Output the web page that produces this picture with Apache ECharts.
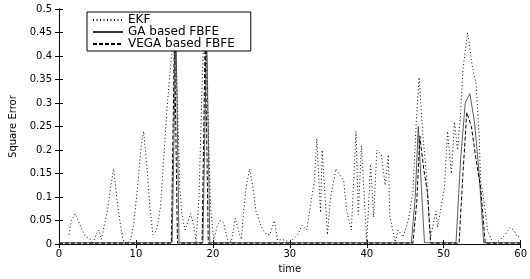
<!DOCTYPE html>
<html><head><meta charset="utf-8">
<script src="https://cdn.jsdelivr.net/npm/echarts@6/dist/echarts.min.js"></script>
<style>html,body{margin:0;padding:0;background:#fff}#c{width:530px;height:279px}</style>
</head><body><div id="c"></div>
<script>
const seriesNames = ['EKF', 'GA based FBFE', 'VEGA based FBFE'];
const xTicks = [0, 10, 20, 30, 40, 50, 60];
const yTicks = [0, 0.05, 0.1, 0.15, 0.2, 0.25, 0.3, 0.35, 0.4, 0.45, 0.5];

const ekfTime = [1.3,1.6,2.1,2.5,3.0,3.5,4.0,4.4,4.8,5.2,5.5,5.9,6.3,6.7,7.1,7.5,7.9,8.3,8.7,9.3,9.7,10.2,10.7,11.0,11.4,11.8,12.2,12.7,13.2,13.6,14.0,14.4,14.8,15.1,15.4,15.7,16.0,16.4,16.8,17.1,17.5,17.8,18.2,18.5,18.8,19.1,19.4,19.7,20.1,20.6,21.0,21.4,21.9,22.4,22.9,23.3,23.7,24.0,24.4,24.8,25.2,25.6,26.1,26.5,27.0,27.4,28.0,28.4,29.0,30.0,31.0,31.6,32.2,33.2,33.5,34.0,34.2,34.9,35.3,36.0,37.0,37.4,38.0,38.6,38.9,39.3,40.0,40.5,40.9,41.3,41.9,42.4,42.8,43.0,43.7,44.1,44.7,45.4,46.0,46.4,46.8,47.3,47.7,48.0,48.3,49.0,49.2,50.1,50.5,51.0,51.4,51.8,52.2,52.5,53.1,53.7,54.2,54.4,54.6,54.8,55.3,55.7,56.2,56.6,57.4,58.0,58.6,59.1,59.6,60.0];
const ekfErr  = [0.02,0.05,0.065,0.05,0.03,0.015,0.012,0.0,0.02,0.03,0.01,0.04,0.07,0.12,0.16,0.10,0.05,0.01,0.0,0.01,0.04,0.12,0.21,0.24,0.17,0.08,0.02,0.03,0.08,0.18,0.28,0.36,0.43,0.45,0.3,0.12,0.06,0.03,0.05,0.065,0.04,0.005,0.1,0.28,0.44,0.45,0.25,0.08,0.01,0.04,0.05,0.045,0.01,0.005,0.055,0.03,0.01,0.07,0.13,0.16,0.12,0.07,0.046,0.03,0.02,0.02,0.05,0.008,0.01,0.004,0.02,0.04,0.03,0.135,0.225,0.067,0.2,0.02,0.1,0.16,0.135,0.07,0.03,0.24,0.063,0.21,0.005,0.17,0.057,0.2,0.19,0.125,0.19,0.06,0.004,0.03,0.015,0.05,0.11,0.25,0.355,0.23,0.16,0.08,0.015,0.07,0.035,0.12,0.24,0.15,0.26,0.2,0.28,0.37,0.45,0.38,0.34,0.29,0.23,0.135,0.085,0.03,0.01,0.0,0.01,0.02,0.035,0.03,0.015,0.02];

const gaTime = [0,14.7,15.2,15.6,18.7,19.2,19.6,45.8,46.3,46.7,47.1,47.5,51.6,52.2,52.8,53.4,54.0,54.6,55.2,60];
const gaErr  = [0.003,0.003,0.46,0.003,0.003,0.46,0.003,0.003,0.1,0.25,0.12,0.003,0.003,0.18,0.3,0.32,0.26,0.15,0.003,0.003];

const vegaTime = [0,14.6,15.0,15.4,18.6,19.0,19.4,46.0,46.5,46.9,47.4,47.9,48.3,52.0,52.5,53.0,53.6,54.2,54.8,55.4,60];
const vegaErr  = [0.002,0.002,0.44,0.002,0.002,0.44,0.002,0.002,0.09,0.23,0.16,0.11,0.002,0.002,0.15,0.28,0.25,0.18,0.12,0.002,0.002];

const pairs = (t, v) => t.map((x, i) => [x, v[i]]);
const font = 'DejaVu Sans';
const black = '#000';
const fmtY = v => v === 0 ? '0' : String(+v.toFixed(2));

const chart = echarts.init(document.getElementById('c'), null, {renderer: 'canvas'});
chart.setOption({
  animation: false,
  backgroundColor: '#fff',
  grid: {left: 57, right: 6, top: 9, bottom: 32, containLabel: false},
  legend: {
    left: 87, top: 12, orient: 'vertical',
    data: seriesNames,
    borderColor: black, borderWidth: 1, borderRadius: 0,
    backgroundColor: '#fff',
    padding: [2, 16, 1, 5], itemGap: 0, itemWidth: 30, itemHeight: 11,
    itemStyle: {color: 'rgba(0,0,0,0)', borderWidth: 0},
    textStyle: {fontFamily: font, fontSize: 12, color: black, lineHeight: 11}
  },
  xAxis: [
    {type: 'value', min: xTicks[0], max: xTicks[xTicks.length - 1], interval: 10, position: 'bottom',
     name: 'time', nameLocation: 'middle', nameGap: 18,
     nameTextStyle: {fontFamily: font, fontSize: 10, color: black},
     axisLine: {show: true, lineStyle: {color: black, width: 1}},
     axisTick: {show: true, inside: true, length: 4, lineStyle: {color: black}},
     axisLabel: {fontFamily: font, fontSize: 10, color: black, margin: 5},
     splitLine: {show: false}},
    {type: 'value', min: xTicks[0], max: xTicks[xTicks.length - 1], interval: 10, position: 'top',
     axisLine: {show: true, lineStyle: {color: black, width: 1}},
     axisTick: {show: true, inside: true, length: 4, lineStyle: {color: black}},
     axisLabel: {show: false}, splitLine: {show: false}}
  ],
  yAxis: [
    {type: 'value', min: yTicks[0], max: yTicks[yTicks.length - 1], interval: 0.05, position: 'left',
     name: 'Square Error', nameLocation: 'middle', nameGap: 41,
     nameTextStyle: {fontFamily: font, fontSize: 10, color: black},
     axisLine: {show: true, lineStyle: {color: black, width: 1}},
     axisTick: {show: true, inside: true, length: 4, lineStyle: {color: black}},
     axisLabel: {fontFamily: font, fontSize: 10, color: black, margin: 7, formatter: fmtY},
     splitLine: {show: false}},
    {type: 'value', min: yTicks[0], max: yTicks[yTicks.length - 1], interval: 0.05, position: 'right',
     axisLine: {show: true, lineStyle: {color: black, width: 1}},
     axisTick: {show: true, inside: true, length: 4, lineStyle: {color: black}},
     axisLabel: {show: false}, splitLine: {show: false}}
  ],
  series: [
    {name: seriesNames[0], type: 'line', data: pairs(ekfTime, ekfErr), showSymbol: false, symbol: 'none',
     lineStyle: {color: black, width: 1, type: [1, 2.5]}, itemStyle: {color: black}},
    {name: seriesNames[1], type: 'line', data: pairs(gaTime, gaErr), showSymbol: false, symbol: 'none',
     lineStyle: {color: '#333', width: 0.8, type: 'solid'}, itemStyle: {color: '#333'}},
    {name: seriesNames[2], type: 'line', data: pairs(vegaTime, vegaErr), showSymbol: false, symbol: 'none',
     lineStyle: {color: black, width: 1, type: [4, 2]}, itemStyle: {color: black}}
  ]
});
</script>
</body></html>
